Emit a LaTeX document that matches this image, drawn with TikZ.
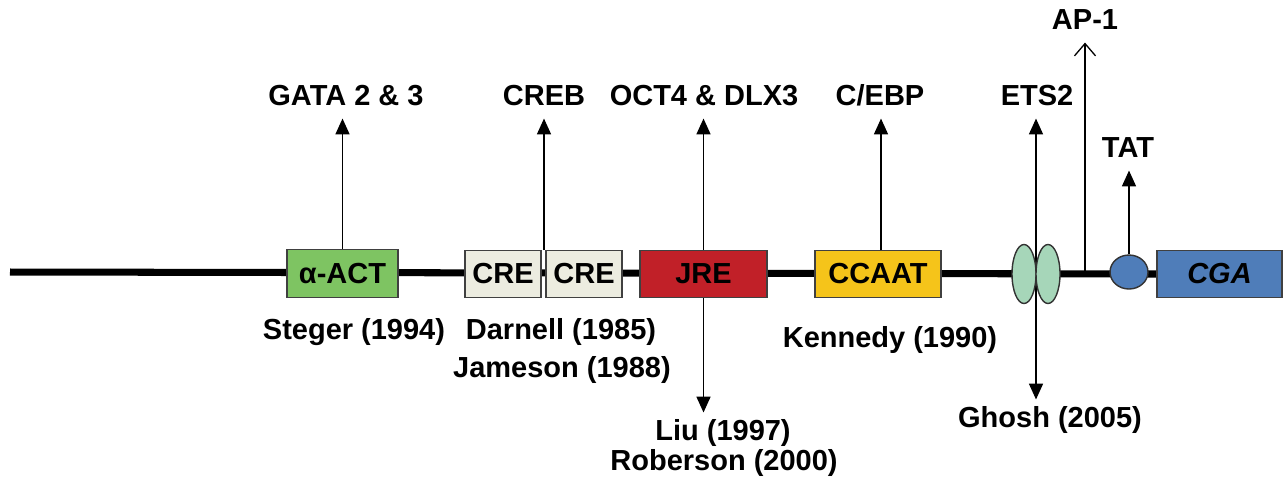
\documentclass[tikz,border=0pt]{standalone}
\usepackage{fontspec}
\setmainfont{Liberation Sans}
\usepackage{tikz}
\usetikzlibrary{shapes.geometric, arrows.meta, positioning, backgrounds}
\usepackage{xcolor}

\definecolor{actgreen}{RGB}{126,196,98}
\definecolor{crebeige}{RGB}{236,236,224}
\definecolor{jrered}{RGB}{193,32,40}
\definecolor{ccaatyellow}{RGB}{245,196,26}
\definecolor{etsgreen}{RGB}{166,214,185}
\definecolor{cgablue}{RGB}{79,125,185}

\newcommand{\lblfont}{\fontsize{16.5}{19}\selectfont\bfseries}

\begin{document}
\begin{tikzpicture}[x=0.02cm, y=-0.02cm,
    site/.style={draw=black!75, line width=0.8pt, minimum height=0.95cm, inner sep=0pt, font=\lblfont},
    lbl/.style={font=\lblfont, text height=12pt, text depth=3pt, inner sep=4pt},
    tf/.style={line width=0.75pt, -{Triangle[width=8pt,length=9pt]}},
    tfboth/.style={line width=0.75pt, {Triangle[width=8pt,length=9pt]}-{Triangle[width=8pt,length=9pt]}}]
    \useasboundingbox (0,0) rectangle (1284,485);

    % Promoter elements
    \node[site, fill=actgreen, minimum width=2.22cm] (aact) at (342.5,273.5) {α-ACT};
    \node[site, fill=crebeige, minimum width=1.52cm] (cre1) at (503,274) {CRE};
    \node[site, fill=crebeige, minimum width=1.52cm] (cre2) at (584,274) {CRE};
    \node[site, fill=jrered, minimum width=2.54cm] (jre) at (703.5,274) {JRE};
    \node[site, fill=ccaatyellow, minimum width=2.52cm] (ccaat) at (878,274) {CCAAT};
    \node[draw=black!80, line width=0.8pt, ellipse, fill=etsgreen, minimum width=0.48cm, minimum height=1.18cm, inner sep=0pt] (ets1) at (1024,274) {};
    \node[draw=black!80, line width=0.8pt, ellipse, fill=etsgreen, minimum width=0.48cm, minimum height=1.18cm, inner sep=0pt] (ets2) at (1048,274) {};
    \node[draw=black!80, line width=0.8pt, ellipse, fill=cgablue, minimum width=0.76cm, minimum height=0.68cm, inner sep=0pt] (tat) at (1129,272) {};
    \node[site, fill=cgablue, minimum width=2.5cm] (cga) at (1219.5,274) {\itshape CGA};

    % Factors
    \node[lbl] (gata) at (346,98) {GATA 2 \& 3};
    \node[lbl] (creb) at (544,98) {CREB};
    \node[lbl] (oct) at (704,98) {OCT4 \& DLX3};
    \node[lbl] (cebp) at (880,98) {C/EBP};
    \node[lbl] (etslbl) at (1037,98) {ETS2};
    \node[lbl] (ap1) at (1085,22) {AP-1};
    \node[lbl] (tatlbl) at (1128,150) {TAT};

    % References
    \node[lbl] (steger) at (354,332) {Steger (1994)};
    \node[lbl] (darnell) at (561,332) {Darnell (1985)};
    \node[lbl] (jameson) at (562,370) {Jameson (1988)};
    \node[lbl] (liu) at (723,433) {Liu (1997)};
    \node[lbl] (roberson) at (724,463) {Roberson (2000)};
    \node[lbl] (kennedy) at (890,340) {Kennedy (1990)};
    \node[lbl] (ghosh) at (1050,420) {Ghosh (2005)};

    \coordinate (linestart) at (10,272);
    \coordinate (crejoin) at (544,250);
    \coordinate (ccaatbase) at (881,250);
    \coordinate (etsbase) at (1036,272);
    \coordinate (ap1base) at (1085,272);

    % Backbone
    \begin{scope}[on background layer]
        \draw[line width=4pt] (linestart) -- (cga.west);
        \draw[tfboth] (etsbase |- etslbl.south) -- (etsbase |- ghosh.north);
    \end{scope}

    % Connections
    \draw[tf] (aact.north) -- (aact.north |- gata.south);
    \draw[tf] (crejoin) -- (crejoin |- creb.south);
    \draw[tf] (jre.north) -- (jre.north |- oct.south);
    \draw[tf] (jre.south) -- (jre.south |- liu.north);
    \draw[tf] (ccaatbase) -- (ccaatbase |- cebp.south);
    \draw[line width=0.75pt, -{Straight Barb[width=12pt,length=7pt]}] (ap1base) -- (ap1base |- ap1.south);
    \draw[tf] (tat.north) -- (tat.north |- tatlbl.south);
\end{tikzpicture}
\end{document}
